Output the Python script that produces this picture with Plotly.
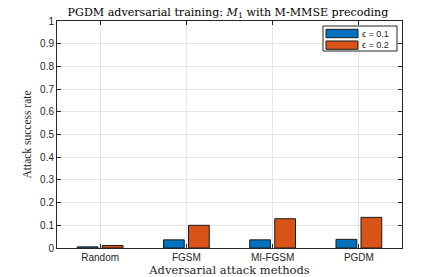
import plotly.graph_objects as go

categories = ["Random", "FGSM", "MI-FGSM", "PGDM"]
eps01 = [0.005, 0.036, 0.036, 0.038]
eps02 = [0.011, 0.100, 0.129, 0.135]
series_names = ["\u03f5 = 0.1", "\u03f5 = 0.2"]
series_colors = ["#0072BD", "#D95319"]
y_ticks = [0, 0.1, 0.2, 0.3, 0.4, 0.5, 0.6, 0.7, 0.8, 0.9, 1]

fig = go.Figure()
for vals, name, col in zip([eps01, eps02], series_names, series_colors):
    fig.add_bar(x=categories, y=vals, name=name, showlegend=False,
                marker=dict(color=col, line=dict(color="#1a1a1a", width=1)))

serif = "DejaVu Serif, serif"
serif2 = "Liberation Serif, serif"
sans = "Liberation Sans, Arial, sans-serif"

# Plot area: x 57..402 px, y 21..248 px
L, R, T, B = 57, 41, 21, 29
W, H = 443, 277
pw, ph = W - L - R, H - T - B

def px2x(px):
    return (px - L) / pw

def py2y(py):
    return (H - B - py) / ph

shapes = []
annotations = []
# legend box
shapes.append(dict(type="rect", xref="paper", yref="paper",
                   x0=px2x(323), x1=px2x(397), y0=py2y(51), y1=py2y(26),
                   line=dict(color="#262626", width=1), fillcolor="white", layer="above"))
sw = [(29.3, 37.7), (41, 49.3)]
for (top, bot), name, col in zip(sw, series_names, series_colors):
    shapes.append(dict(type="rect", xref="paper", yref="paper",
                       x0=px2x(326), x1=px2x(358), y0=py2y(bot), y1=py2y(top),
                       line=dict(color="#1a1a1a", width=1), fillcolor=col, layer="above"))
    annotations.append(dict(xref="paper", yref="paper", x=px2x(360), y=py2y((top + bot) / 2),
                            xanchor="left", yanchor="middle", showarrow=False, text=name,
                            font=dict(family=sans, size=9, color="#262626")))

fig.update_layout(
    width=W, height=H,
    margin=dict(l=L, r=R, t=T, b=B),
    paper_bgcolor="white", plot_bgcolor="white",
    barmode="group", bargap=0.42, bargroupgap=0.17,
    title=dict(text="PGDM adversarial training: <i>M</i><sub>1</sub> with M-MMSE precoding",
               x=(66 + 390) / 2 / W, xanchor="center", y=1 - 12 / H, yanchor="middle",
               font=dict(family=serif, size=11.1, color="black")),
    shapes=shapes, annotations=annotations,
    showlegend=False,
)
fig.update_xaxes(
    automargin=False,
    showline=True, linecolor="#262626", linewidth=1, mirror="ticks",
    ticks="inside", ticklen=4, tickcolor="#262626",
    showgrid=True, gridcolor="#e6e6e6",
    tickfont=dict(family=sans, size=10, color="#262626"),
    title=dict(text="Adversarial attack methods", standoff=0,
               font=dict(family=serif, size=11.5, color="#262626")),
    range=[-0.5, 3.5],
)
fig.update_yaxes(
    automargin=False,
    range=[0, 1], tickvals=y_ticks, ticktext=[f"{v:g}" for v in y_ticks],
    showline=True, linecolor="#262626", linewidth=1, mirror="ticks",
    ticks="inside", ticklen=4, tickcolor="#262626",
    showgrid=True, gridcolor="#e6e6e6", zeroline=False,
    tickfont=dict(family=sans, size=10, color="#262626"),
    title=dict(text="Attack success rate", standoff=6,
               font=dict(family=serif2, size=11.5, color="#262626")),
)

fig.write_html("out.html", config={"displayModeBar": False},
               post_script="document.body.style.margin='0px';")
